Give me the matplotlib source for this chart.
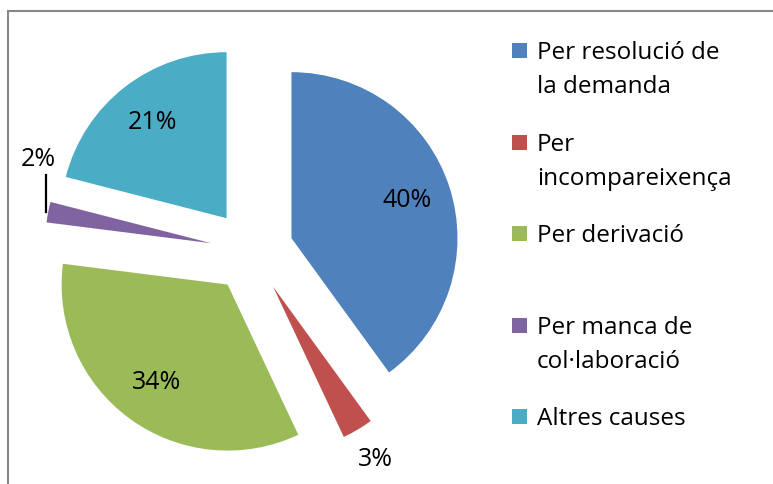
import matplotlib.pyplot as plt
import numpy as np
from matplotlib.patches import Rectangle
from matplotlib.lines import Line2D

plt.rcParams['font.family'] = ['Open Sans', 'DejaVu Sans']

# --------------------------------------------------------------
# data
categories = ['Per resolució de\nla demanda', 'Per\nincompareixença', 'Per derivació',
              'Per manca de\ncol·laboració', 'Altres causes']
values = [40, 3, 34, 2, 21]
colors = ['#4F81BD', '#C0504D', '#9BBB59', '#8064A2', '#4BACC6']

W, H = 773, 484
fig = plt.figure(figsize=(W / 100, H / 100), dpi=100)

# pie centre / radius in pixels
cx, cy, rad = 252, 251, 166
pie_w = 504
ax = fig.add_axes([0, 0, pie_w / W, 1])
wedges, texts, autotexts = ax.pie(values, colors=colors, startangle=90, counterclock=False,
                                  explode=[0.25] * len(values), autopct='%.0f%%', pctdistance=0.73,
                                  textprops=dict(fontsize=18, color='black'),
                                  wedgeprops=dict(linewidth=0))
ax.set_aspect('auto')
ax.set_xlim(-cx / rad, (pie_w - cx) / rad)
ax.set_ylim(-(H - cy) / rad, cy / rad)

# small slices: labels outside
w = wedges[1]
mid = np.deg2rad((w.theta1 + w.theta2) / 2)
autotexts[1].set_position((w.center[0] + 1.21 * np.cos(mid), w.center[1] + 1.21 * np.sin(mid)))

autotexts[3].set_position((-1.29, 0.55))
ax.plot([-1.243, -1.243], [0.235, 0.455], color='black', lw=1.6)

# --------------------------------------------------------------
# legend (drawn by hand, Excel style)
for i, (lab, col) in enumerate(zip(categories, colors)):
    base = 59 + i * 91.6
    fig.add_artist(Rectangle((512 / W, 1 - (base - 1) / H), 15 / W, 15 / H, transform=fig.transFigure,
                             facecolor=col, edgecolor='none'))
    for j, line in enumerate(lab.split('\n')):
        fig.text(537 / W, 1 - (base + j * 34) / H, line, fontsize=17.5, va='baseline', ha='left')

# chart border (only top and left visible)
fig.add_artist(Line2D([8 / W, 8 / W], [0, 1 - 11 / H], transform=fig.transFigure, color='#878787', lw=1.5))
fig.add_artist(Line2D([8 / W, 1], [1 - 11 / H, 1 - 11 / H], transform=fig.transFigure, color='#878787', lw=1.5))

fig.savefig('out.png', dpi=100)
